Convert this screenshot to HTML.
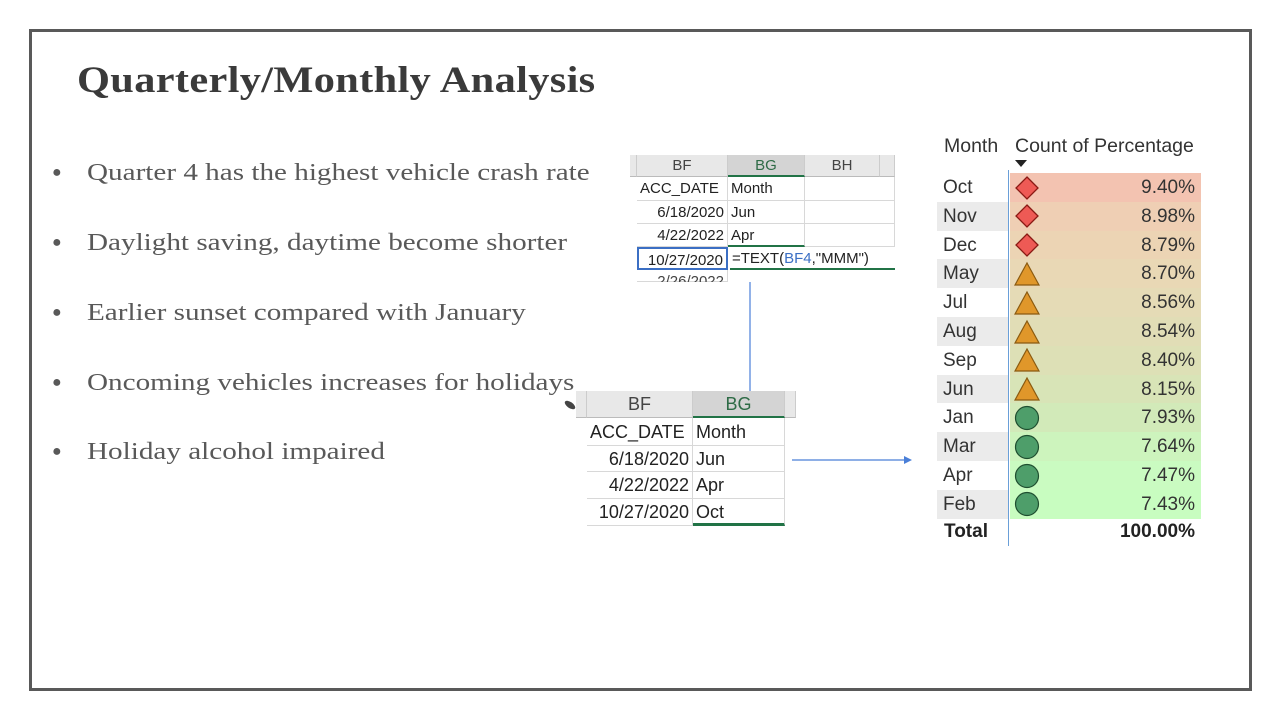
<!DOCTYPE html>
<html><head><meta charset="utf-8"><style>
*{margin:0;padding:0;box-sizing:border-box}
body{width:1280px;height:720px;background:#fff;position:relative;overflow:hidden;font-family:"Liberation Sans",sans-serif}
.a{position:absolute}
.frame{left:29px;top:29px;width:1223px;height:662px;border:3px solid #595959}
.title{left:77px;top:59px;font-family:"Liberation Serif",serif;font-weight:bold;font-size:37px;color:#3a3a3a;letter-spacing:0.3px;transform:scaleX(1.145);transform-origin:left top;white-space:nowrap}
.b{left:52px;font-family:"Liberation Serif",serif;font-size:24.5px;color:#595959;white-space:nowrap}
.b span{display:inline-block;width:35px;font-size:16px;vertical-align:3px}
.b i{font-style:normal;display:inline-block;transform:scaleX(1.19);transform-origin:left center}
.x{font-family:"Liberation Sans",sans-serif;color:#222;white-space:nowrap;overflow:hidden}
.hd{background:#e8e8e8;color:#444;text-align:center;border-right:1px solid #ccc;border-bottom:1px solid #bbb}
.hs{background:#d4d4d4;color:#2e6b46;border-bottom:2px solid #217346}
.c{border-bottom:1px solid #d8d8d8;border-right:1px solid #d8d8d8;padding:0 3px}
.r{text-align:right}
.m{left:937px;width:71px;height:28.8px;font-size:19px;color:#333;padding-left:6px;line-height:29px}
.v{left:1010px;width:191px;height:28.8px;font-size:19px;color:#333;text-align:right;padding-right:6px;line-height:29px}
</style></head><body>
<div class="a frame"></div>
<div class="a title">Quarterly/Monthly Analysis</div>
<div class="a b" style="top:159px"><span>●</span><i>Quarter 4 has the highest vehicle crash rate</i></div>
<div class="a b" style="top:229px"><span>●</span><i>Daylight saving, daytime become shorter</i></div>
<div class="a b" style="top:299px"><span>●</span><i>Earlier sunset compared with January</i></div>
<div class="a b" style="top:369px"><span>●</span><i>Oncoming vehicles increases for holidays</i></div>
<div class="a b" style="top:438px"><span>●</span><i>Holiday alcohol impaired</i></div>

<!-- top excel -->
<div class="a x" style="left:630px;top:155px;width:265px;height:127px;font-size:15px">
 <div class="a hd" style="left:0;top:0;width:7px;height:22px"></div>
 <div class="a hd" style="left:7px;top:0;width:91px;height:22px;line-height:22px">BF</div>
 <div class="a hd hs" style="left:98px;top:0;width:77px;height:22px;line-height:21px">BG</div>
 <div class="a hd" style="left:175px;top:0;width:75px;height:22px;line-height:22px">BH</div>
 <div class="a hd" style="left:250px;top:0;width:15px;height:22px"></div>
 <div class="a c" style="left:7px;top:22px;width:91px;height:24px;line-height:24px">ACC_DATE</div>
 <div class="a c" style="left:98px;top:22px;width:77px;height:24px;line-height:24px">Month</div>
 <div class="a c" style="left:175px;top:22px;width:90px;height:24px"></div>
 <div class="a c r" style="left:7px;top:46px;width:91px;height:23px;line-height:23px">6/18/2020</div>
 <div class="a c" style="left:98px;top:46px;width:77px;height:23px;line-height:23px">Jun</div>
 <div class="a c" style="left:175px;top:46px;width:90px;height:23px"></div>
 <div class="a c r" style="left:7px;top:69px;width:91px;height:23px;line-height:23px">4/22/2022</div>
 <div class="a c" style="left:98px;top:69px;width:77px;height:23px;line-height:23px;border-bottom:2px solid #217346">Apr</div>
 <div class="a c" style="left:175px;top:69px;width:90px;height:23px"></div>
 <div class="a c r" style="left:7px;top:92px;width:91px;height:23px;line-height:23px;border:2px solid #3b6fc4">10/27/2020</div>
 <div class="a" style="left:100px;top:92px;width:170px;height:23px;line-height:23px;padding-left:2px;border-bottom:2px solid #217346">=TEXT(<span style="color:#3b6fc4">BF4</span>,"MMM")</div>
 <div class="a c r" style="left:7px;top:115px;width:91px;height:12px;line-height:23px;color:#444">2/26/2022</div>
</div>

<!-- arrows -->
<svg class="a" style="left:0;top:0" width="1280" height="720">
 <line x1="750" y1="282" x2="750" y2="396" stroke="#4a7fd8" stroke-width="1.2"/>
 <polygon points="746,393 754,393 750,401" fill="#4a7fd8"/>
 <line x1="792" y1="460" x2="906" y2="460" stroke="#4a7fd8" stroke-width="1.2"/>
 <polygon points="904,456 904,464 912,460" fill="#4a7fd8"/>
 <ellipse cx="570" cy="405" rx="6" ry="3" transform="rotate(35 570 405)" fill="#444"/>
</svg>

<!-- bottom excel -->
<div class="a x" style="left:576px;top:391px;width:220px;height:136px;font-size:18px">
 <div class="a hd" style="left:0;top:0;width:11px;height:27px"></div>
 <div class="a hd" style="left:11px;top:0;width:106px;height:27px;line-height:27px">BF</div>
 <div class="a hd hs" style="left:117px;top:0;width:92px;height:27px;line-height:26px">BG</div>
 <div class="a hd" style="left:209px;top:0;width:11px;height:27px"></div>
 <div class="a c" style="left:11px;top:27px;width:106px;height:28px;line-height:28px">ACC_DATE</div>
 <div class="a c" style="left:117px;top:27px;width:92px;height:28px;line-height:28px">Month</div>
 <div class="a c r" style="left:11px;top:55px;width:106px;height:26px;line-height:26px">6/18/2020</div>
 <div class="a c" style="left:117px;top:55px;width:92px;height:26px;line-height:26px">Jun</div>
 <div class="a c r" style="left:11px;top:81px;width:106px;height:27px;line-height:27px">4/22/2022</div>
 <div class="a c" style="left:117px;top:81px;width:92px;height:27px;line-height:27px">Apr</div>
 <div class="a c r" style="left:11px;top:108px;width:106px;height:27px;line-height:27px">10/27/2020</div>
 <div class="a c" style="left:117px;top:108px;width:92px;height:27px;line-height:27px;border-bottom:3px solid #217346">Oct</div>
</div>

<!-- right matrix -->
<div class="a" style="left:944px;top:135px;font-size:19.5px;color:#333">Month</div>
<div class="a" style="left:1015px;top:135px;font-size:19.5px;color:#333">Count of Percentage</div>
<div class="a" style="left:1015px;top:160px;width:0;height:0;border-left:6px solid transparent;border-right:6px solid transparent;border-top:7px solid #222"></div>
<div class="a" style="left:1008px;top:170px;width:1px;height:376px;background:#6a9fd8"></div>
<div id="rows"></div>
<div class="a" style="left:944px;top:521px;font-size:19px;font-weight:bold;color:#222">Total</div>
<div class="a" style="left:1100px;top:521px;width:95px;text-align:right;font-size:19px;font-weight:bold;color:#222">100.00%</div>
<script>
var d=[["Oct","9.40%","#f3c3b1",0],["Nov","8.98%","#efcfb4",0],["Dec","8.79%","#ecd4b4",0],["May","8.70%","#e9d8b5",1],["Jul","8.56%","#e5dbb6",1],["Aug","8.54%","#e1ddb6",1],["Sep","8.40%","#dde0b6",1],["Jun","8.15%","#d8e4b7",1],["Jan","7.93%","#d2eab9",2],["Mar","7.64%","#cdf4bd",2],["Apr","7.47%","#cafbc1",2],["Feb","7.43%","#c8fdc0",2]];
var h="";
d.forEach(function(r,i){var t=173+i*28.8;
h+='<div class="a m" style="top:'+t+'px;background:'+(i%2?'#ebebeb':'transparent')+'">'+r[0]+'</div>';
h+='<div class="a v" style="top:'+t+'px;background:'+r[2]+'">'+r[1]+'</div>';
var ic='';
if(r[3]==0)ic='<polygon points="13,2 24,13 13,24 2,13" fill="#ee5a55" stroke="#8a1a14" stroke-width="1.3"/>';
else if(r[3]==1)ic='<polygon points="13,2 25,24 1,24" fill="#e0972a" stroke="#8a5a10" stroke-width="1.2"/>';
else ic='<circle cx="13" cy="13" r="11.5" fill="#4e9e6a" stroke="#1f4f30" stroke-width="1.2"/>';
h+='<svg class="a" style="left:1014px;top:'+(t+1.5)+'px" width="26" height="26">'+ic+'</svg>';});
document.getElementById("rows").innerHTML=h;
</script>
</body></html>
